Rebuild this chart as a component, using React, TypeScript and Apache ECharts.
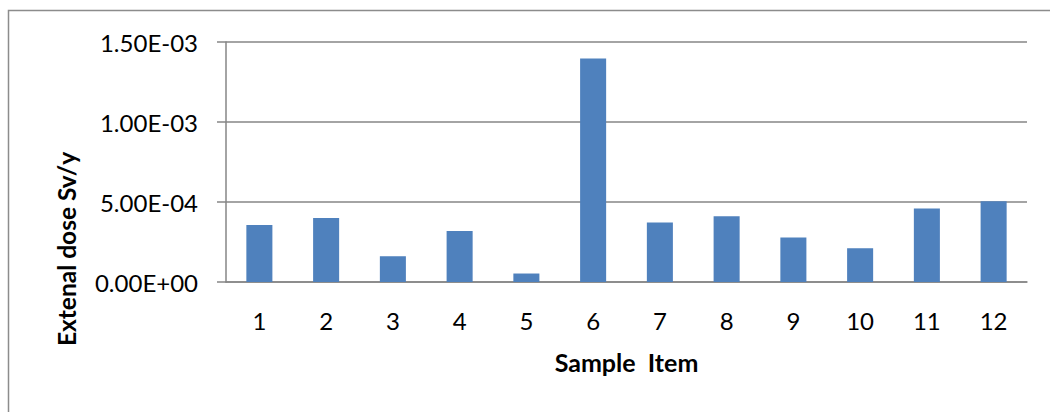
import React, { useEffect, useRef } from "react";
import * as echarts from "echarts";

const categories = ["1", "2", "3", "4", "5", "6", "7", "8", "9", "10", "11", "12"];
const doseValues = [3.57e-4, 4.0e-4, 1.61e-4, 3.18e-4, 5.3e-5, 1.397e-3, 3.72e-4, 4.11e-4, 2.78e-4, 2.11e-4, 4.6e-4, 5.05e-4];
const yTicks = [0, 5e-4, 1e-3, 1.5e-3];
const yTitle = "Extenal dose Sv/y";
const xTitle = "Sample  Item";

const FONT = "Lato, 'Open Sans', sans-serif";

function sci(v: number): string {
  if (v === 0) return "0.00E+00";
  const exp = Math.floor(Math.log10(Math.abs(v)) + 1e-9);
  const mant = v / Math.pow(10, exp);
  const sign = exp < 0 ? "-" : "+";
  const e = Math.abs(exp).toString().padStart(2, "0");
  return mant.toFixed(2) + "E" + sign + e;
}

export default function App() {
  const ref = useRef<HTMLDivElement>(null);
  useEffect(() => {
    document.body.style.margin = "0";
    const chart = echarts.init(ref.current!, null, { renderer: "svg" });
    chart.setOption({
      animation: false,
      backgroundColor: "#ffffff",
      grid: { left: 226, right: 23, top: 42, bottom: 130, containLabel: false },
      graphic: [
        {
          type: "polyline",
          shape: { points: [[8.5, 412], [8.5, 10.5], [1050, 10.5]] },
          style: { stroke: "#8c8c8c", lineWidth: 1.5, fill: null },
        },
        {
          type: "text",
          x: 66,
          y: 249,
          rotation: Math.PI / 2,
          style: {
            text: yTitle,
            font: `bold 24.5px ${FONT}`,
            fill: "#000",
            align: "center",
            verticalAlign: "middle",
          },
        },
      ],
      xAxis: {
        type: "category",
        data: categories,
        name: xTitle,
        nameLocation: "middle",
        nameGap: 67,
        nameTextStyle: { fontFamily: FONT, fontSize: 25, fontWeight: "bold", color: "#000" },
        axisLine: { lineStyle: { color: "#868686", width: 1.5 } },
        axisTick: { show: false },
        axisLabel: { fontFamily: FONT, fontSize: 24, color: "#000", margin: 26 },
      },
      yAxis: {
        type: "value",
        min: yTicks[0],
        max: yTicks[yTicks.length - 1],
        interval: yTicks[1] - yTicks[0],
        axisLine: { show: true, lineStyle: { color: "#868686", width: 1.5 } },
        axisTick: { show: true, length: 9, lineStyle: { color: "#868686", width: 1.5 } },
        splitLine: { lineStyle: { color: "#868686", width: 1.5 } },
        axisLabel: {
          fontFamily: FONT,
          fontSize: 24,
          color: "#000",
          margin: 28,
          formatter: (v: number) => sci(v),
        },
      },
      series: [
        {
          type: "bar",
          data: doseValues,
          barWidth: "39%",
          itemStyle: { color: "#4F81BD" },
        },
      ],
    });
    return () => chart.dispose();
  }, []);
  return <div ref={ref} style={{ width: 1050, height: 412 }} />;
}
